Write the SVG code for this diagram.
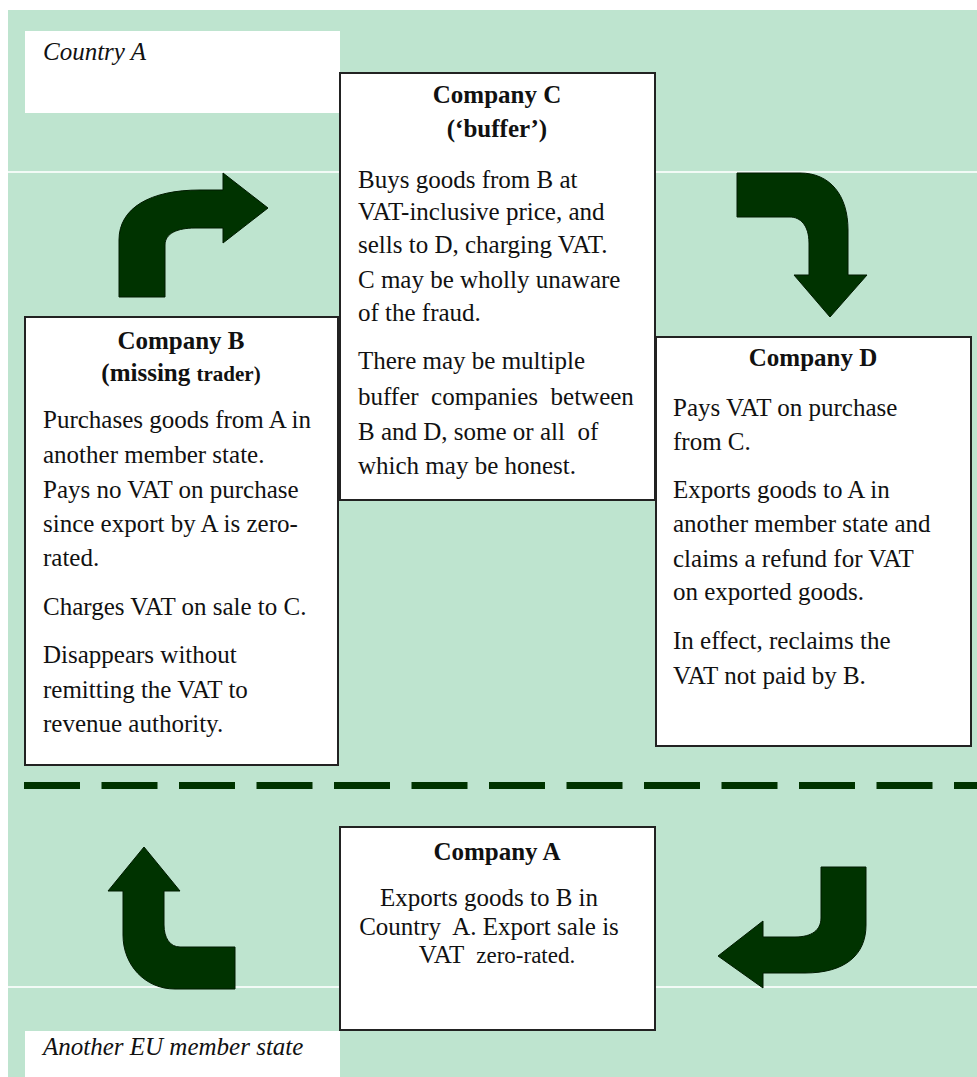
<svg xmlns="http://www.w3.org/2000/svg" width="977" height="1077" viewBox="0 0 977 1077">
<style>
.bg{fill:#bee4cf}
.sep{stroke:#f2faf6;stroke-width:2}
.box{fill:#fff;stroke:#222;stroke-width:2}
.lbl{fill:#fff}
.t{font-family:"Liberation Serif","Times New Roman",serif;font-size:25px;fill:#111}
.h{font-weight:bold;text-anchor:middle}
.i{font-style:italic;font-size:25px}
.c{text-anchor:middle}
.arr{fill:#003300;stroke:#001a00;stroke-width:1}
</style>
<rect x="0" y="0" width="977" height="1077" fill="#fff"/>
<rect class="bg" x="8" y="10" width="969" height="1067"/>
<line class="sep" x1="8" y1="172" x2="977" y2="172"/>
<line class="sep" x1="8" y1="987" x2="977" y2="987"/>

<g id="connectors">
<path class="arr" d="M119,297 L119,240 C119,208 150,190 200,190 L223,190 L223,173 L268,208 L223,243 L223,228 L195,228 C178,228 165,233 165,245 L165,297 Z"/>
<path class="arr" d="M737,173 L800,173 C830,173 848,195 848,230 L848,275 L867,275 L830,317 L794,275 L809,275 L809,243 C809,225 800,217 790,217 L737,217 Z"/>
<path class="arr" d="M821,867 L866,867 L866,925 C866,955 845,973 805,973 L763,973 L763,988 L718,956 L763,921 L763,937 L795,937 C812,937 821,930 821,918 Z"/>
<path class="arr" d="M235,947 L180,947 C170,947 164,938 164,925 L164,891 L180,891 L144,847 L108,891 L123,891 L123,935 C123,965 145,989 175,989 L235,989 Z"/>
<line x1="24" y1="785.5" x2="977" y2="785.5" stroke="#003300" stroke-width="7" stroke-dasharray="56 21.5"/>
</g>

<g id="countryA">
<rect class="lbl" x="25" y="31" width="315" height="82"/>
<text class="t i" x="43" y="60">Country A</text>
</g>

<g id="companyC">
<rect class="box" x="340" y="73" width="315" height="427"/>
<text class="t h" x="497" y="103">Company C</text>
<text class="t h" x="497" y="137">(‘buffer’)</text>
<text class="t" x="358" y="188">Buys goods from B at</text>
<text class="t" x="358" y="220">VAT-inclusive price, and</text>
<text class="t" x="358" y="253">sells to D, charging VAT.</text>
<text class="t" x="358" y="288">C may be wholly unaware</text>
<text class="t" x="358" y="321">of the fraud.</text>
<text class="t" x="358" y="369">There may be multiple</text>
<text class="t" x="358" y="405" xml:space="preserve">buffer  companies  between</text>
<text class="t" x="358" y="440" xml:space="preserve">B and D, some or all  of</text>
<text class="t" x="358" y="474">which may be honest.</text>
</g>

<g id="companyB">
<rect class="box" x="25" y="317" width="313" height="448"/>
<text class="t h" x="181" y="349">Company B</text>
<text class="t h" x="181" y="381">(missing <tspan font-size="21">trader)</tspan></text>
<text class="t" x="43" y="428">Purchases goods from A in</text>
<text class="t" x="43" y="463">another member state.</text>
<text class="t" x="43" y="498">Pays no VAT on purchase</text>
<text class="t" x="43" y="532">since export by A is zero-</text>
<text class="t" x="43" y="566">rated.</text>
<text class="t" x="43" y="615">Charges VAT on sale to C.</text>
<text class="t" x="43" y="663">Disappears without</text>
<text class="t" x="43" y="698">remitting the VAT to</text>
<text class="t" x="43" y="732">revenue authority.</text>
</g>

<g id="companyD">
<rect class="box" x="656" y="337" width="315" height="409"/>
<text class="t h" x="813" y="366">Company D</text>
<text class="t" x="673" y="416">Pays VAT on purchase</text>
<text class="t" x="673" y="450">from C.</text>
<text class="t" x="673" y="498">Exports goods to A in</text>
<text class="t" x="673" y="532">another member state and</text>
<text class="t" x="673" y="567">claims a refund for VAT</text>
<text class="t" x="673" y="600">on exported goods.</text>
<text class="t" x="673" y="649">In effect, reclaims the</text>
<text class="t" x="673" y="684">VAT not paid by B.</text>
</g>

<g id="companyA">
<rect class="box" x="340" y="827" width="315" height="203"/>
<text class="t h" x="497" y="860">Company A</text>
<text class="t c" x="489" y="906">Exports goods to B in</text>
<text class="t c" x="489" y="935" xml:space="preserve">Country  A. Export sale is</text>
<text class="t c" x="497" y="963" xml:space="preserve">VAT  <tspan font-size="23">zero-rated.</tspan></text>
</g>

<g id="anotherEU">
<rect class="lbl" x="25" y="1031" width="315" height="46"/>
<text class="t i" x="43" y="1055">Another EU member state</text>
</g>
</svg>
